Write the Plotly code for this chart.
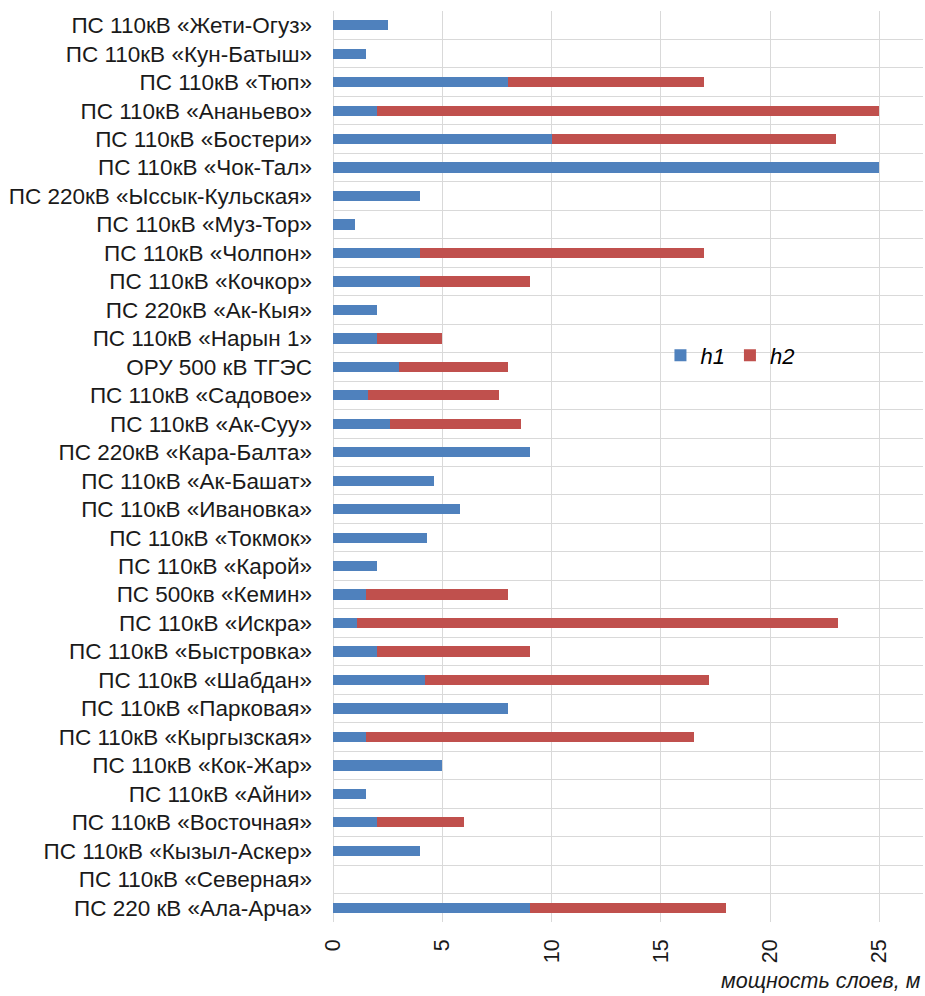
import plotly.graph_objects as go

# Substations, listed top to bottom
stations = [
    "ПС 110кВ «Жети-Огуз»",
    "ПС 110кВ «Кун-Батыш»",
    "ПС 110кВ «Тюп»",
    "ПС 110кВ «Ананьево»",
    "ПС 110кВ «Бостери»",
    "ПС 110кВ «Чок-Тал»",
    "ПС 220кВ «Ыссык-Кульская»",
    "ПС 110кВ «Муз-Тор»",
    "ПС 110кВ «Чолпон»",
    "ПС 110кВ «Кочкор»",
    "ПС 220кВ «Ак-Кыя»",
    "ПС 110кВ «Нарын 1»",
    "ОРУ 500 кВ ТГЭС",
    "ПС 110кВ «Садовое»",
    "ПС 110кВ «Ак-Суу»",
    "ПС 220кВ «Кара-Балта»",
    "ПС 110кВ «Ак-Башат»",
    "ПС 110кВ «Ивановка»",
    "ПС 110кВ «Токмок»",
    "ПС 110кВ «Карой»",
    "ПС 500кв «Кемин»",
    "ПС 110кВ «Искра»",
    "ПС 110кВ «Быстровка»",
    "ПС 110кВ «Шабдан»",
    "ПС 110кВ «Парковая»",
    "ПС 110кВ «Кыргызская»",
    "ПС 110кВ «Кок-Жар»",
    "ПС 110кВ «Айни»",
    "ПС 110кВ «Восточная»",
    "ПС 110кВ «Кызыл-Аскер»",
    "ПС 110кВ «Северная»",
    "ПС 220 кВ «Ала-Арча»",
]

# Layer thicknesses, m
h1 = [2.5, 1.5, 8, 2, 10, 25, 4, 1, 4, 4, 2, 2, 3, 1.6, 2.6, 9, 4.6, 5.8, 4.3, 2,
      1.5, 1.1, 2, 4.2, 8, 1.5, 5, 1.5, 2, 4, 0, 9]
h2 = [0, 0, 9, 23, 13, 0, 0, 0, 13, 5, 0, 3, 5, 6, 6, 0, 0, 0, 0, 0,
      6.5, 22, 7, 13, 0, 15, 0, 0, 4, 0, 0, 9]

x_ticks = [0, 5, 10, 15, 20, 25]

FONT = "Liberation Sans, Arial, sans-serif"
BLUE = "#4F81BD"
RED = "#C0504D"
GRID = "#D9D9D9"
TEXT = "#1a1a1a"

fig = go.Figure()
fig.add_trace(go.Bar(y=stations, x=h1, name="h1", orientation="h",
                     marker=dict(color=BLUE, line=dict(width=0))))
fig.add_trace(go.Bar(y=stations, x=h2, name="h2", orientation="h",
                     marker=dict(color=RED, line=dict(width=0))))

fig.update_layout(
    width=925, height=996,
    barmode="stack",
    bargap=0.64,
    plot_bgcolor="white",
    paper_bgcolor="white",
    margin=dict(l=333, r=2, t=11, b=74),
    font=dict(family=FONT, size=22, color=TEXT),
    showlegend=True,
    legend=dict(
        orientation="h",
        x=0.555, y=0.622, xanchor="left", yanchor="middle",
        font=dict(family=FONT, size=22, style="italic", color="#000000"),
        itemwidth=30,
        bgcolor="rgba(0,0,0,0)",
        traceorder="normal",
    ),
    xaxis=dict(
        range=[0, 27],
        tickvals=x_ticks,
        tickangle=-90,
        showgrid=True, gridcolor=GRID, gridwidth=1,
        zeroline=True, zerolinecolor=GRID, zerolinewidth=1,
        showline=False,
        ticks="",
        ticklabelstandoff=12,
        tickfont=dict(family=FONT, size=21.5, color=TEXT),
    ),
    yaxis=dict(
        categoryorder="array",
        categoryarray=stations,
        autorange="reversed",
        tickson="boundaries",
        showgrid=True, gridcolor=GRID, gridwidth=1,
        showline=False,
        ticks="",
        ticklabelstandoff=20,
        tickfont=dict(family=FONT, size=22.5, color=TEXT),
    ),
    annotations=[dict(
        text="мощность слоев, м",
        xref="paper", yref="paper",
        x=1.0, y=-0.080, xanchor="right", yanchor="bottom",
        showarrow=False,
        font=dict(family=FONT, size=21.5, style="italic", color=TEXT),
    )],
)

fig.write_html("out.html")
